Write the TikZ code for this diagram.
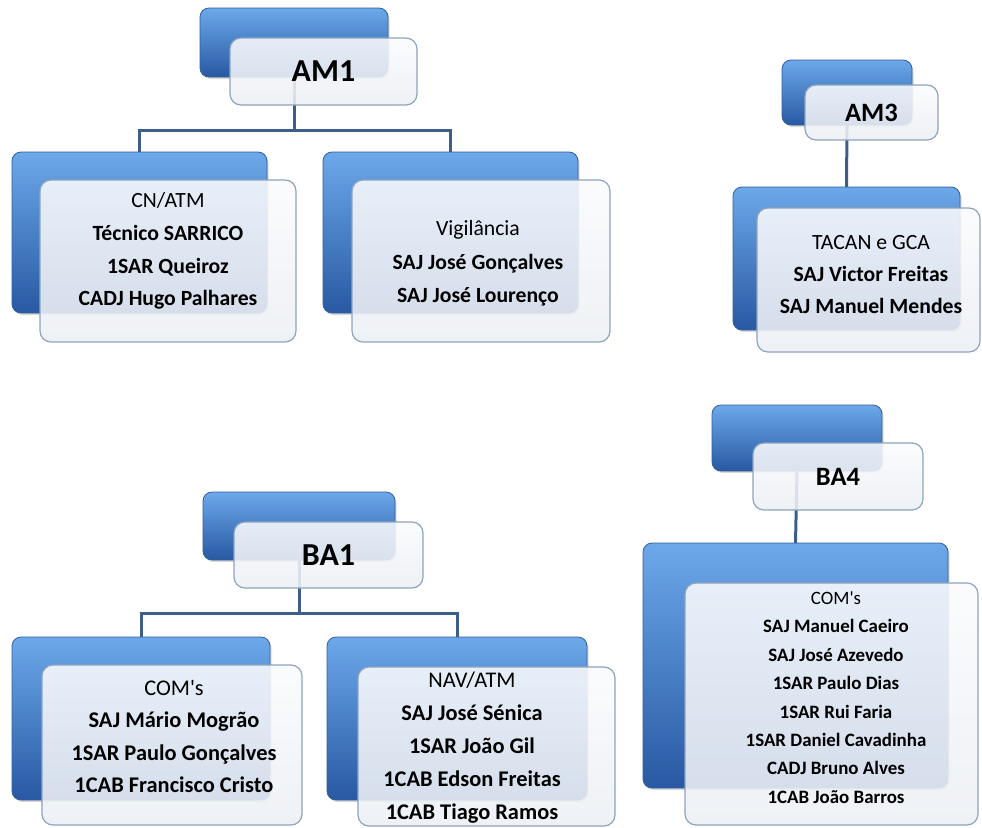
\documentclass[tikz,border=0pt]{standalone}
\usepackage{fontspec}
\setmainfont{Carlito}[Ligatures=TeXOff]
\usetikzlibrary{shadows}

\definecolor{bluetop}{HTML}{6CA8EA}
\definecolor{bluemid}{HTML}{3F80D0}
\definecolor{bluebot}{HTML}{2859A2}
\definecolor{blueedge}{HTML}{2F6099}
\definecolor{cardtop}{HTML}{FAFBFD}
\definecolor{cardbot}{HTML}{ECEFF4}
\definecolor{cardedge}{HTML}{8DA3BE}
\definecolor{linkcol}{HTML}{3D5E89}

\tikzset{
  backbox/.style n args={2}{rectangle, rounded corners=9pt,
    top color=bluetop, middle color=bluemid, bottom color=bluebot,
    draw=blueedge, line width=0.8pt,
    inner sep=0pt, outer sep=0pt, anchor=north west,
    minimum width=#1, minimum height=#2,
    drop shadow={opacity=0.3, shadow xshift=1.5pt, shadow yshift=-2pt}},
  card/.style n args={2}{rectangle, rounded corners=11pt,
    top color=cardtop, bottom color=cardbot, fill opacity=0.88, text opacity=1,
    draw=cardedge, line width=1.2pt, inner sep=0pt, outer sep=0pt,
    anchor=north west, minimum width=#1, minimum height=#2},
  titlebig/.style={font=\fontsize{32}{34}\selectfont\bfseries},
  titlesmall/.style={font=\fontsize{26.5}{28}\selectfont\bfseries},
  namelist/.style={align=center, inner sep=0pt, text=black},
  link/.style={draw=linkcol, line width=3pt},
}

\begin{document}
\begin{tikzpicture}[x=1pt, y=-1pt]
  \useasboundingbox (0,0) rectangle (982,827);

  % ---------- boxes behind the cards ----------
  \node[backbox={188pt}{69pt}]  (am1back)  at (200,8)   {};
  \node[backbox={255pt}{161pt}] (am1lback) at (12,152)  {};
  \node[backbox={255pt}{161pt}] (am1rback) at (323,152) {};

  \node[backbox={130pt}{65pt}]  (am3back)  at (782,60)  {};
  \node[backbox={227pt}{143pt}] (am3cback) at (733,187) {};

  \node[backbox={192pt}{68pt}]  (ba1back)  at (203,492) {};
  \node[backbox={258pt}{163pt}] (ba1lback) at (12,637)  {};
  \node[backbox={260pt}{163pt}] (ba1rback) at (327,637) {};

  \node[backbox={170pt}{66pt}]  (ba4back)  at (712,405) {};
  \node[backbox={305pt}{245pt}] (ba4cback) at (643,543) {};

  % ---------- connectors ----------
  \coordinate (am1bar) at (0,130);
  \draw[link] (am1back.south) -- (am1back.south |- am1bar) -| (am1lback.north);
  \draw[link] (am1back.south |- am1bar) -| (am1rback.north);
  \draw[link] (am3back.south) -- (am3cback.north);
  \coordinate (ba1bar) at (0,613);
  \draw[link] (ba1back.south) -- (ba1back.south |- ba1bar) -| (ba1lback.north);
  \draw[link] (ba1back.south |- ba1bar) -| (ba1rback.north);
  \draw[link] (ba4back.south) -- (ba4cback.north);

  % ---------- cards ----------
  \node[card={187pt}{67pt}, titlebig]   (am1card)  at (230,38)  {AM1};
  \node[card={256pt}{162pt}]            (am1lcard) at (40,180)  {};
  \node[card={258pt}{162pt}]            (am1rcard) at (352,180) {};

  \node[card={133pt}{55pt}, titlesmall] (am3card)  at (805,85)  {AM3};
  \node[card={223pt}{144pt}]            (am3ccard) at (757,208) {};

  \node[card={189pt}{66pt}, titlebig]   (ba1card)  at (234,522) {BA1};
  \node[card={260pt}{160pt}]            (ba1lcard) at (42,665)  {};
  \node[card={257pt}{159pt}]            (ba1rcard) at (358,667) {};

  \node[card={170pt}{67pt}, titlesmall] (ba4card)  at (753,443) {BA4};
  \node[card={293pt}{242pt}]            (ba4ccard) at (685,583) {};

  % ---------- names ----------
  \node[namelist, font=\fontsize{21.7}{32.7}\selectfont] (am1ltxt) at (168,251)
    {CN/ATM\\ \textbf{Técnico SARRICO}\\ \textbf{1SAR Queiroz}\\ \textbf{CADJ Hugo Palhares}};
  \node[namelist, font=\fontsize{21.7}{33.5}\selectfont] (am1rtxt) at (478,263.5)
    {Vigilância\\ \textbf{SAJ José Gonçalves}\\ \textbf{SAJ José Lourenço}};
  \node[namelist, font=\fontsize{21.7}{32}\selectfont] (am3txt) at (871,275)
    {TACAN e GCA\\ \textbf{SAJ Victor Freitas}\\ \textbf{SAJ Manuel Mendes}};
  \node[namelist, font=\fontsize{22.4}{32.3}\selectfont] (ba1ltxt) at (174,736.5)
    {COM's\\ \textbf{SAJ Mário Mogrão}\\ \textbf{1SAR Paulo Gonçalves}\\ \textbf{1CAB Francisco Cristo}};
  \node[namelist, font=\fontsize{22.4}{33}\selectfont] (ba1rtxt) at (472,748)
    {NAV/ATM\\ \textbf{SAJ José Sénica}\\ \textbf{1SAR João Gil}\\ \textbf{1CAB Edson Freitas}\\ \textbf{1CAB Tiago Ramos}};
  \node[namelist, font=\fontsize{18.9}{28.4}\selectfont] (ba4txt) at (836,697.5)
    {COM's\\ \textbf{SAJ Manuel Caeiro}\\ \textbf{SAJ José Azevedo}\\ \textbf{1SAR Paulo Dias}\\ \textbf{1SAR Rui Faria}\\ \textbf{1SAR Daniel Cavadinha}\\ \textbf{CADJ Bruno Alves}\\ \textbf{1CAB João Barros}};
\end{tikzpicture}
\end{document}
